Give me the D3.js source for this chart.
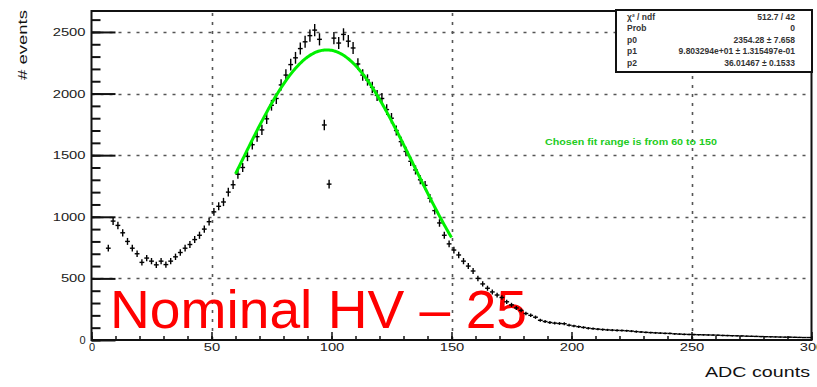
<!DOCTYPE html>
<html>
<head>
<meta charset="utf-8">
<script src="https://cdn.jsdelivr.net/npm/d3@7"></script>
<style>
  html, body { margin: 0; padding: 0; background: #fff; }
  svg { display: block; font-family: "Liberation Sans", Arial, sans-serif; }
</style>
</head>
<body>
<svg id="chart" width="817" height="387"></svg>
<script>
// ADC spectrum: bin centres (bin width 2 ADC counts) and entries per bin
const binWidth = 2;
const binCenters = [
  7, 9, 11, 13, 15, 17, 19, 21, 23, 25, 27, 29, 31, 33, 35, 37, 39, 41, 43, 45,
  47, 49, 51, 53, 55, 57, 59, 61, 63, 65, 67, 69, 71, 73, 75, 77, 79, 81, 83, 85,
  87, 89, 91, 93, 95, 97, 99, 101, 103, 105, 107, 109, 111, 113, 115, 117, 119, 121, 123, 125,
  127, 129, 131, 133, 135, 137, 139, 141, 143, 145, 147, 149, 151, 153, 155, 157, 159, 161, 163, 165,
  167, 169, 171, 173, 175, 177, 179, 181, 183, 185, 187, 189, 191, 193, 195, 197, 199, 201, 203, 205,
  207, 209, 211, 213, 215, 217, 219, 221, 223, 225, 227, 229, 231, 233, 235, 237, 239, 241, 243, 245,
  247, 249, 251, 253, 255, 257, 259, 261, 263, 265, 267, 269, 271, 273, 275, 277, 279, 281, 283, 285,
  287, 289, 291, 293, 295, 297, 299
];
const binCounts = [
  745, 965, 930, 870, 800, 745, 700, 630, 665, 640, 610, 640, 612, 640, 675, 710, 745, 775, 815, 850,
  900, 960, 1040, 1085, 1120, 1200, 1260, 1345, 1400, 1490, 1585, 1650, 1705, 1795, 1905, 1960, 2070, 2150, 2235, 2290,
  2365, 2420, 2470, 2515, 2440, 1745, 1265, 2450, 2410, 2480, 2425, 2370, 2240, 2150, 2110, 2050, 1985, 1960, 1870, 1800,
  1700, 1610, 1530, 1450, 1380, 1300, 1255, 1150, 1050, 950, 850, 780, 730, 690, 640, 600, 560, 500, 455, 420,
  390, 365, 345, 310, 285, 260, 240, 215, 200, 185, 160, 150, 142, 137, 134, 132, 120, 114, 108, 102,
  96, 92, 88, 85, 82, 80, 78, 77, 75, 72, 68, 65, 62, 60, 58, 56, 54, 53, 50, 48,
  46, 45, 44, 43, 42, 41, 40, 39, 37, 36, 35, 34, 33, 31, 30, 29, 28, 27, 26, 25,
  24, 23, 23, 22, 21, 20, 20
];

// Gaussian fit result (constant, mean, sigma) and fit range
const fitConstant = 2354.28;
const fitMean = 98.03;
const fitSigma = 36.01;
const fitRange = [60, 150];

// Axis ticks
const xTickLabels = [0, 50, 100, 150, 200, 250, 300];
const xGridValues = [50, 150, 250];
const yTickLabels = [0, 500, 1000, 1500, 2000, 2500];

// Statistics box rows
const statNames = ["\u03C7\u00B2 / ndf", "Prob", "p0", "p1", "p2"];
const statValues = [
  "512.7 / 42",
  "0",
  "2354.28 \u00B1 7.658",
  "9.803294e+01 \u00B1 1.315497e-01",
  "36.01467 \u00B1 0.1533"
];

const svg = d3.select("#chart");
const x = d3.scaleLinear().domain([0, 300]).range([91.5, 811.5]);
const y = d3.scaleLinear().domain([0, 2670]).range([340, 11]);

// grid
const grid = svg.append("g").attr("stroke", "#555").attr("stroke-width", 1.6)
  .attr("stroke-dasharray", "3,6");
grid.selectAll("line.h").data(yTickLabels.filter(d => d > 0)).join("line")
  .attr("x1", x(0)).attr("x2", x(300))
  .attr("y1", d => Math.round(y(d)) + 0.5).attr("y2", d => Math.round(y(d)) + 0.5);
grid.selectAll("line.v").data(xGridValues).join("line")
  .attr("x1", d => Math.round(x(d)) + 0.5).attr("x2", d => Math.round(x(d)) + 0.5)
  .attr("y1", y(0)).attr("y2", 12);

// y axis: major ticks with labels, minor ticks every 100
const yMajor = d3.axisLeft(y).tickValues(yTickLabels).tickSize(-24).tickPadding(6)
  .tickFormat(d3.format("d"));
const yMinor = d3.axisLeft(y).tickValues(d3.range(0, 2700, 100)).tickSize(-9).tickFormat("");
const gyMinor = svg.append("g").attr("transform", `translate(${x(0)},0)`).call(yMinor);
const gy = svg.append("g").attr("transform", `translate(${x(0)},0)`).call(yMajor);
[gy, gyMinor].forEach(g => {
  g.select(".domain").remove();
  g.selectAll(".tick line").attr("stroke", "#111").attr("stroke-width", 2);
});
gy.selectAll(".tick text")
  .attr("font-size", 11).attr("fill", "#222")
  .attr("font-family", "Liberation Sans, Arial, sans-serif")
  .each(function (d) {
    const t = d3.select(this);
    const s = String(d);
    if (s.length > 1) t.attr("textLength", s.length * 8.2).attr("lengthAdjust", "spacingAndGlyphs");
  });

// x axis: ticks every 10 ADC counts, labels every 50
const xMinor = d3.axisBottom(x).tickValues(d3.range(0, 301, 10)).tickSize(-4).tickFormat("");
const xMajor = d3.axisBottom(x).tickValues(xTickLabels).tickSize(-8).tickPadding(3)
  .tickFormat(d3.format("d"));
const gxMinor = svg.append("g").attr("transform", `translate(0,${y(0)})`).call(xMinor);
const gx = svg.append("g").attr("transform", `translate(0,${y(0)})`).call(xMajor);
[gx, gxMinor].forEach(g => {
  g.select(".domain").remove();
  g.selectAll(".tick line").attr("stroke", "#111").attr("stroke-width", 1.5);
});
gx.selectAll(".tick text")
  .attr("font-size", 11).attr("fill", "#222")
  .attr("font-family", "Liberation Sans, Arial, sans-serif")
  .each(function (d) {
    const t = d3.select(this);
    const s = String(d);
    if (s.length > 1) t.attr("textLength", s.length * 8.2).attr("lengthAdjust", "spacingAndGlyphs");
  });

// frame
svg.append("rect")
  .attr("x", x(0)).attr("y", 11)
  .attr("width", x(300) - x(0)).attr("height", y(0) - 11)
  .attr("fill", "none").attr("stroke", "#111").attr("stroke-width", 2);

// big annotation
svg.append("text")
  .attr("x", 110).attr("y", 328)
  .attr("font-size", 54).attr("fill", "#ff0000")
  .attr("textLength", 417).attr("lengthAdjust", "spacingAndGlyphs")
  .text("Nominal HV \u2013 25");

// histogram drawn as error bars: bin-width horizontal bar plus sqrt(N) vertical bar
const bins = binCenters.map((c, i) => ({ c, n: binCounts[i], e: Math.sqrt(binCounts[i]) }));
const hist = svg.append("g").attr("stroke", "#000").attr("stroke-width", 1.4);
hist.selectAll("line.xe").data(bins).join("line")
  .attr("x1", d => x(d.c - binWidth / 2)).attr("x2", d => x(d.c + binWidth / 2))
  .attr("y1", d => y(d.n)).attr("y2", d => y(d.n));
hist.selectAll("line.ye").data(bins).join("line")
  .attr("x1", d => x(d.c)).attr("x2", d => x(d.c))
  .attr("y1", d => y(d.n - d.e)).attr("y2", d => y(d.n + d.e));

// fitted gaussian over the fit range
const gaus = v => fitConstant * Math.exp(-0.5 * Math.pow((v - fitMean) / fitSigma, 2));
const fitPts = d3.range(fitRange[0], fitRange[1] + 0.001, 0.5).map(v => [v, gaus(v)]);
svg.append("path")
  .datum(fitPts)
  .attr("fill", "none").attr("stroke", "#00f000").attr("stroke-width", 3)
  .attr("d", d3.line().x(d => x(d[0])).y(d => y(d[1])));

// fit range note
svg.append("text")
  .attr("x", 545).attr("y", 145)
  .attr("font-size", 8.5).attr("font-weight", "bold").attr("fill", "#22cc22")
  .attr("textLength", 172).attr("lengthAdjust", "spacingAndGlyphs")
  .text(`Chosen fit range is from ${fitRange[0]} to ${fitRange[1]}`);

// statistics box
const box = svg.append("g");
box.append("rect")
  .attr("x", 616).attr("y", 10).attr("width", 196).attr("height", 62)
  .attr("fill", "#fff").attr("stroke", "#111").attr("stroke-width", 2);
const rowH = 11.6;
box.selectAll("text.name").data(statNames).join("text")
  .attr("x", 627).attr("y", (d, i) => 19.5 + i * rowH)
  .attr("font-size", 8.5).attr("font-weight", "bold").attr("fill", "#333")
  .text(d => d);
box.selectAll("text.val").data(statValues).join("text")
  .attr("x", 795).attr("y", (d, i) => 19.5 + i * rowH)
  .attr("font-size", 8.5).attr("font-weight", "bold").attr("fill", "#333").attr("text-anchor", "end")
  .text(d => d);

// axis titles
svg.append("text")
  .attr("x", 810).attr("y", 377)
  .attr("font-size", 15).attr("fill", "#111").attr("text-anchor", "end")
  .attr("textLength", 105).attr("lengthAdjust", "spacingAndGlyphs")
  .text("ADC counts");
svg.append("text")
  .attr("transform", "translate(27,10) rotate(-90)")
  .attr("font-size", 13).attr("fill", "#111").attr("text-anchor", "end")
  .attr("textLength", 70).attr("lengthAdjust", "spacingAndGlyphs")
  .text("# events");
</script>
</body>
</html>
